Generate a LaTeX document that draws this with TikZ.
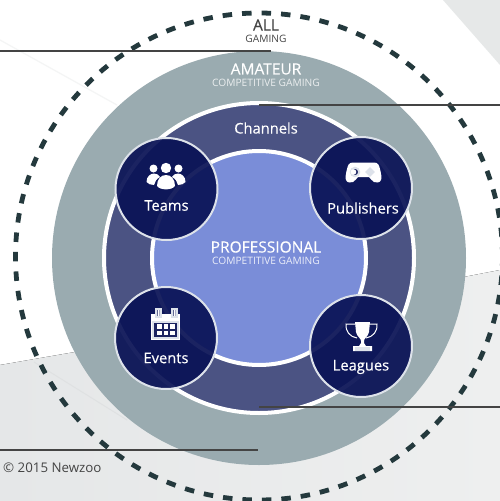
\documentclass[tikz,border=0pt]{standalone}
\usepackage{fontspec}
\setmainfont{Open Sans}
\newfontfamily\heavyface[FakeBold=0.25]{Open Sans}
\definecolor{bgl}{HTML}{E5E7E8}
\definecolor{bgr}{HTML}{EEEFEF}
\definecolor{bgt}{HTML}{E6E8E8}
\definecolor{streak}{HTML}{F4F5F5}
\definecolor{streakg}{HTML}{DFE1E2}
\definecolor{amat}{HTML}{9AABB0}
\definecolor{chan}{HTML}{4B5383}
\definecolor{pro}{HTML}{7A8DD8}
\definecolor{hub}{HTML}{0A1356}
\definecolor{rim}{HTML}{DDE2EA}
\definecolor{ruleC}{HTML}{444444}
\definecolor{dashC}{HTML}{24393D}
\tikzset{x=1pt,y=-1pt,
 hub/.style={circle,minimum size=102pt,inner sep=0pt,draw=rim,line width=2pt,fill=hub,fill opacity=.93,draw opacity=1},
 rulel/.style={draw=ruleC,line width=2pt},
 lab/.style={inner sep=0pt,text=white,font=\heavyface\fontsize{14.7pt}{16pt}\selectfont},
 big/.style={inner sep=0pt,font=\heavyface\fontsize{15.5pt}{17pt}\selectfont},
 small/.style={inner sep=0pt,font=\fontsize{10.2pt}{12pt}\selectfont},
 ic/.style={fill=white,draw=none}}
\begin{document}
\begin{tikzpicture}
\useasboundingbox (0,0) rectangle (500,501);
\fill[white] (0,0) rectangle (500,501);
\fill[left color=bgl,right color=bgr] (0,365) -- (75,352) -- (500,270) -- (500,501) -- (0,501) -- cycle;
\fill[bgt] (443,0) -- (500,0) -- (500,65) -- cycle;
\draw[streak,line width=1.2pt] (0,40) -- (117,105);
\draw[streakg,line width=1pt] (34,362) -- (127,420);
\coordinate (c) at (259,258);
\node[circle,minimum size=487pt,inner sep=0pt,draw=dashC,line width=4.8pt,dash pattern=on 9.5pt off 10pt] (allring) at (259,256.5) {};
\node[circle,minimum size=414pt,inner sep=0pt,fill=amat] (amateur) at (c) {};
\node[circle,minimum size=310pt,inner sep=0pt,fill=chan,draw=white,line width=4pt] (chanring) at (c) {};
\node[circle,minimum size=214pt,inner sep=0pt,fill=pro,draw=white,line width=4pt] (prodisc) at (c) {};
\coordinate (l1a) at (0,51); \coordinate (l1b) at (271,51);
\coordinate (l2a) at (259,105); \coordinate (l2b) at (500,105);
\coordinate (l3a) at (259,407); \coordinate (l3b) at (500,407);
\coordinate (l4a) at (0,450); \coordinate (l4b) at (258,450);
\draw[rulel] (l1a) -- (l1b);
\draw[rulel] (l2a) -- (l2b);
\draw[rulel] (l3a) -- (l3b);
\draw[rulel] (l4a) -- (l4b);
\node[big,text=ruleC] (tall) at (266,25) {ALL};
\node[small,text=ruleC] (tgaming) at (266,39) {GAMING};
\node[big,text=white] (tam) at (266,69) {AMATEUR};
\node[small,text=white,opacity=.8] (tamc) at (266,83) {COMPETITIVE GAMING};
\node[lab] (tchan) at (266,128) {Channels};
\node[big,text=white] (tpro) at (266,247) {PROFESSIONAL};
\node[small,text=white,opacity=.85] (tproc) at (266,261) {COMPETITIVE GAMING};
\node[inner sep=0pt,anchor=west,text=ruleC,font=\fontsize{13.3pt}{15pt}\selectfont] (copy) at (3,468) {© 2015 Newzoo};
\node[hub] (teams) at (166.5,189) {};
\node[hub] (pub) at (361,188) {};
\node[hub] (events) at (166,338) {};
\node[hub] (leagues) at (361,346) {};
\node[lab] (tteams) at (166.5,205.5) {Teams};
\node[lab] (tpub) at (363,208) {Publishers};
\node[lab] (tevents) at (166,358) {Events};
\node[lab] (tleagues) at (361,367) {Leagues};
% teams icon
\fill[ic] (153.5,168.5) circle (4);
\fill[ic] (178.5,168.5) circle (4);
\fill[ic] (166,168) circle (5.2);
\fill[ic] (146.5,182) .. controls (146.5,176) and (151,173.5) .. (154,173.5) .. controls (157,173.5) and (159,175) .. (160,177) .. controls (156,179) and (155,182) .. (154,185) .. controls (151,185) and (148,184) .. (146.5,182) -- cycle;
\fill[ic] (185.5,182) .. controls (185.5,176) and (181,173.5) .. (178,173.5) .. controls (175,173.5) and (173,175) .. (172,177) .. controls (176,179) and (177,182) .. (178,185) .. controls (181,185) and (184,184) .. (185.5,182) -- cycle;
\fill[ic] (157,186) .. controls (157,179) and (161,175) .. (166,175) .. controls (171,175) and (175,179) .. (175,186) .. controls (172,190.5) and (160,190.5) .. (157,186) -- cycle;
% gamepad
\fill[ic] (353,162.5) -- (374,162.5) .. controls (378,162.5) and (379,165) .. (380,169) .. controls (381,173) and (382,178) .. (381,180) .. controls (380,183) and (376,183) .. (374,182) .. controls (372,181) and (370,178) .. (369,177) -- (358,177) .. controls (357,178) and (355,181) .. (353,182) .. controls (351,183) and (347,183) .. (346,180) .. controls (345,178) and (346,173) .. (347,169) .. controls (348,165) and (349,162.5) .. (353,162.5) -- cycle;
\fill[hub] (355,172) circle (4.2);
\fill[ic] (353.5,172) circle (2.8);
\fill[hub] (370,169.5) circle (1) (370,174.5) circle (1) (367.5,172) circle (1) (372.5,172) circle (1);
% calendar
\fill[ic] (151,314) rectangle (180,340);
\fill[hub] (153,322) rectangle (178,338);
\fill[hub] (156,309) rectangle (161,317) (172,309) rectangle (177,317);
\fill[ic] (157.5,310) rectangle (159.5,316) (173.5,310) rectangle (175.5,316);
\foreach \yy in {324,330.5} \foreach \xx in {157,163.5,170} {\fill[ic] (\xx,\yy) rectangle ++(4.8,4.8);}
% trophy
\fill[ic] (355,322) -- (370,322) -- (369,332) .. controls (368,337) and (364,338) .. (364,341) -- (364,343) -- (366,346) -- (372,346) -- (372,351) -- (353,351) -- (353,346) -- (359,346) -- (361,343) -- (361,341) .. controls (361,338) and (357,337) .. (356,332) -- cycle;
\fill[hub] (356,348) rectangle (369,349.5);
\draw[white,line width=1pt] (355,324) -- (346,324) .. controls (345,331) and (350,337) .. (357,338);
\draw[white,line width=1pt] (370,324) -- (377,324) .. controls (378,331) and (373,337) .. (366,338);
\end{tikzpicture}
\end{document}
